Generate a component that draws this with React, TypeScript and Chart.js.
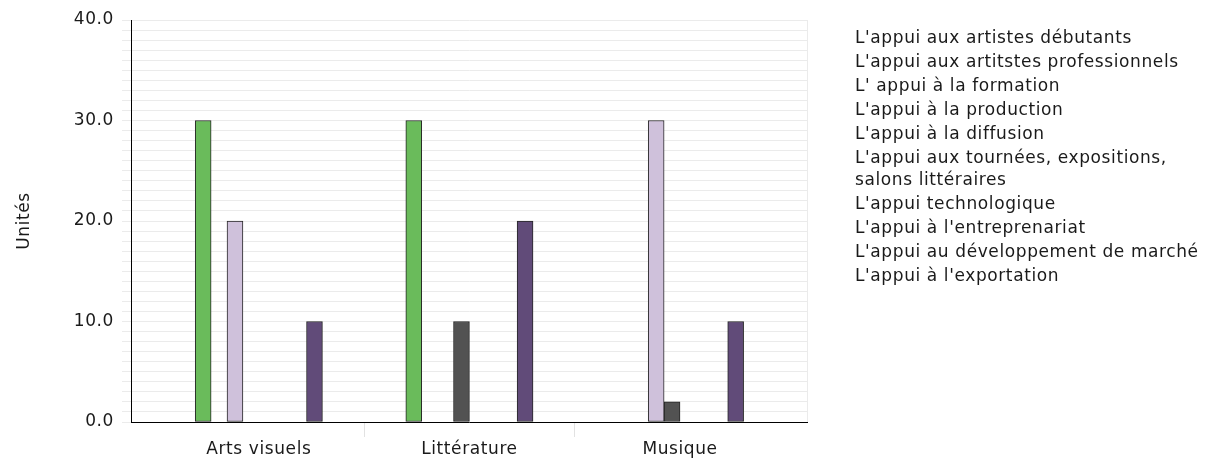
import React, { useEffect, useRef } from 'react';
import { Chart, registerables } from 'chart.js';

Chart.register(...registerables);

// ---- Data ----
const categories = ['Arts visuels', 'Littérature', 'Musique'];

const seriesNames = [
  "L'appui aux artistes débutants",
  "L'appui aux artitstes professionnels",
  "L' appui à la formation",
  "L'appui à la production",
  "L'appui à la diffusion",
  "L'appui aux tournées, expositions,\nsalons littéraires",
  "L'appui technologique",
  "L'appui à l'entreprenariat",
  "L'appui au développement de marché",
  "L'appui à l'exportation",
];

const artistesDebutants = [null, null, null];
const artistesProfessionnels = [30, 30, null];
const formation = [null, null, null];
const production = [20, null, 30];
const diffusion = [null, 10, 2];
const tournees = [null, null, null];
const technologique = [null, null, null];
const entreprenariat = [null, null, null];
const developpementMarche = [10, 20, 10];
const exportation = [null, null, null];

const seriesValues = [
  artistesDebutants,
  artistesProfessionnels,
  formation,
  production,
  diffusion,
  tournees,
  technologique,
  entreprenariat,
  developpementMarche,
  exportation,
];

const seriesColors = [
  '#4f81bd',
  '#6abb5b',
  '#f2a541',
  '#cfc1db',
  '#525252',
  '#9bbb59',
  '#8064a2',
  '#4bacc6',
  '#614b79',
  '#c0504d',
];

const yMin = 0;
const yMax = 40;
const yLabelStep = 10;

const FONT = "'DejaVu Sans', sans-serif";
const TEXT_COLOR = '#1a1a1a';
const SPACING = '0.6px';

const spacingPlugin = {
  id: 'letterSpacing',
  beforeUpdate(chart: any) {
    chart.ctx.letterSpacing = SPACING;
  },
  beforeLayout(chart: any) {
    chart.ctx.letterSpacing = SPACING;
  },
  beforeDraw(chart: any) {
    chart.ctx.letterSpacing = SPACING;
  },
};

export default function App() {
  const canvasRef = useRef<HTMLCanvasElement | null>(null);

  useEffect(() => {
    const canvas = canvasRef.current;
    if (!canvas) return;
    const xIndex = categories.map((_, i) => i);
    const xMin = -0.607;
    const xMax = categories.length - 1 + 0.603;

    const chart = new Chart(canvas, {
      type: 'bar',
      data: {
        labels: xIndex,
        datasets: seriesValues.map((vals, i) => ({
          label: seriesNames[i],
          data: vals,
          backgroundColor: seriesColors[i],
          borderColor: '#262626',
          borderWidth: 1,
          borderSkipped: false,
          barThickness: 15.9,
        })),
      },
      options: {
        responsive: false,
        animation: false,
        devicePixelRatio: 1,
        layout: { padding: { left: 0, top: 20, right: 403, bottom: 0 } },
        font: { family: FONT, size: 17 },
        plugins: {
          legend: { display: false },
          tooltip: { enabled: false },
          title: { display: false },
        },
        scales: {
          x: {
            type: 'linear',
            min: xMin,
            max: xMax,
            offset: false,
            afterFit(scale: any) {
              scale.height = 40;
            },
            afterBuildTicks(scale: any) {
              const t: any[] = [];
              for (let i = 0; i < categories.length; i++) {
                t.push({ value: i });
                if (i < categories.length - 1) t.push({ value: i + 0.5 });
              }
              t.push({ value: xMax });
              scale.ticks = t;
            },
            grid: {
              offset: false,
              drawOnChartArea: true,
              drawTicks: true,
              tickLength: 15,
              color: (ctx: any) =>
                ctx.tick && ctx.tick.value === xMax ? '#ebebeb' : 'rgba(0,0,0,0)',
              tickColor: (ctx: any) =>
                ctx.tick && Math.abs((ctx.tick.value % 1) - 0.5) < 1e-9 ? '#e2e2e2' : 'rgba(0,0,0,0)',
            },
            border: { display: true, color: '#000', width: 1 },
            ticks: {
              autoSkip: false,
              maxRotation: 0,
              minRotation: 0,
              padding: 2,
              color: TEXT_COLOR,
              font: { family: FONT, size: 17 },
              callback: (value: any) =>
                Number.isInteger(value) && value >= 0 && value < categories.length
                  ? categories[value]
                  : '',
            },
          },
          y: {
            type: 'linear',
            min: yMin,
            max: yMax,
            afterFit(scale: any) {
              scale.width = 131;
            },
            grid: {
              color: '#ebebeb',
              tickColor: '#ebebeb',
              drawTicks: true,
              tickLength: 9,
            },
            border: { display: true, color: '#000', width: 1 },
            ticks: {
              stepSize: 1,
              autoSkip: false,
              padding: 8,
              color: TEXT_COLOR,
              font: { family: FONT, size: 17 },
              callback: (value: any) =>
                Number(value) % yLabelStep === 0 ? Number(value).toFixed(1) : '',
            },
            title: {
              display: true,
              text: 'Unités',
              color: TEXT_COLOR,
              font: { family: FONT, size: 17 },
              padding: { top: 14, bottom: 0 },
            },
          },
        },
      },
      plugins: [spacingPlugin],
    } as any);

    return () => {
      chart.destroy();
    };
  }, []);

  return (
    <div style={{ position: 'absolute', left: 0, top: 0, width: 1210, height: 462, background: '#fff' }}>
      <canvas
        ref={canvasRef}
        width={1210}
        height={462}
        style={{ position: 'absolute', left: 0, top: 0, width: 1210, height: 462 }}
      />
      <div
        style={{
          position: 'absolute',
          left: 855,
          top: 26,
          fontFamily: FONT,
          fontSize: 17,
          letterSpacing: SPACING,
          color: TEXT_COLOR,
          lineHeight: '22px',
        }}
      >
        {seriesNames.map((name) => (
          <div key={name} style={{ whiteSpace: 'pre-line', marginBottom: 2 }}>
            {name}
          </div>
        ))}
      </div>
    </div>
  );
}
